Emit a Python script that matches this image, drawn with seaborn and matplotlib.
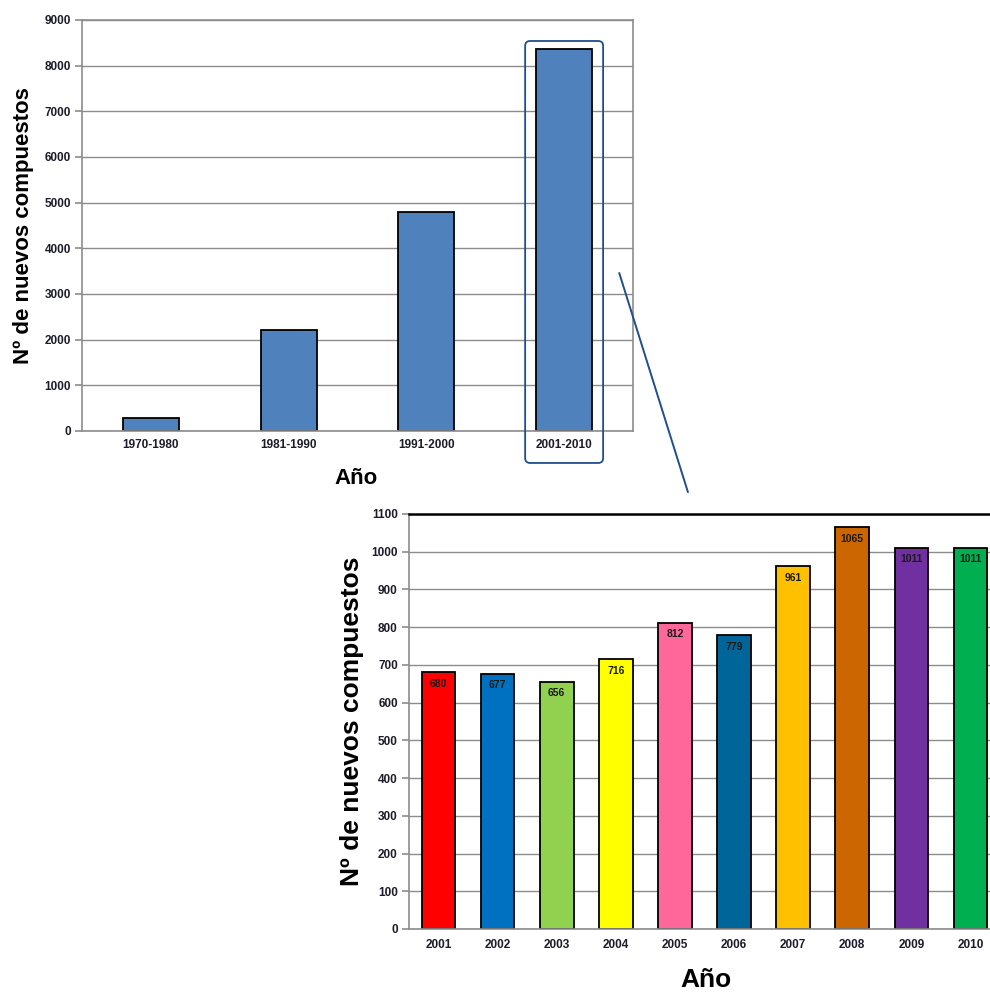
"""
Nuevos compuestos por década y por año (2001-2010)
"""

import matplotlib
matplotlib.use("Agg")
import matplotlib.pyplot as plt
from matplotlib.patches import FancyBboxPatch, ConnectionPatch
import seaborn as sns

# data
decades = ["1970-1980", "1981-1990", "1991-2000", "2001-2010"]
decade_counts = [280, 2210, 4800, 8368]

years = ["2001", "2002", "2003", "2004", "2005", "2006", "2007", "2008", "2009", "2010"]
year_counts = [680, 677, 656, 716, 812, 779, 961, 1065, 1011, 1011]
year_colors = ["#FF0000", "#0070C0", "#92D050", "#FFFF00", "#FF6699",
               "#006699", "#FFC000", "#CC6600", "#7030A0", "#00B050"]

sns.set_style("white")
plt.rcParams['font.family'] = ['Liberation Sans', 'DejaVu Sans']

GRID = "#8c8c8c"
TICKTXT = "#1c1c2a"

fig = plt.figure(figsize=(9.9, 9.94), dpi=100)

# ---- top chart
ax1 = fig.add_axes([0.0828, 0.5664, 0.5566, 0.4135])
sns.barplot(x=decades, y=decade_counts, color="#4F81BD", saturation=1, width=0.405,
            edgecolor="black", linewidth=1.3, ax=ax1)
ax1.set_ylim(0, 9000)
ax1.set_yticks(range(0, 9001, 1000))
ax1.yaxis.grid(True, color=GRID, linewidth=1)
ax1.set_axisbelow(True)
for s in ax1.spines.values():
    s.set_color(GRID)
    s.set_linewidth(1.2)
ax1.set_xticks([-0.5, 0.5, 1.5, 2.5, 3.5], minor=True)
ax1.tick_params(axis="x", which="major", length=0, pad=6)
ax1.tick_params(axis="x", which="minor", length=5, color=GRID, width=1.2)
ax1.tick_params(axis="y", length=5, color=GRID, width=1.2, left=True, pad=3)
for lab in ax1.get_xticklabels() + ax1.get_yticklabels():
    lab.set_fontsize(8.5)
    lab.set_fontweight("bold")
    lab.set_color(TICKTXT)
ax1.set_xlabel("Año", fontsize=16, fontweight="bold", color="black")
ax1.set_ylabel("Nº de nuevos compuestos", fontsize=16, fontweight="bold", color="black")
ax1.xaxis.set_label_coords(0.498, -0.09)
ax1.yaxis.set_label_coords(-0.087, 0.5)

# highlight around last decade
hl = FancyBboxPatch((3 - 0.283, -700), 0.566, 9240,
                    boxstyle="round,pad=0,rounding_size=0.036",
                    mutation_aspect=3020, transform=ax1.transData,
                    facecolor="none", edgecolor="#1F4E8C", linewidth=1.3,
                    clip_on=False, zorder=5)
ax1.add_patch(hl)

# ---- bottom chart
ax2 = fig.add_axes([0.4131, 0.0654, 0.597, 0.4175])
sns.barplot(x=years, y=year_counts, hue=years, palette=year_colors, saturation=1,
            legend=False, width=0.57, edgecolor="black", linewidth=1.3, ax=ax2)
ax2.set_ylim(0, 1100)
ax2.set_yticks(range(0, 1101, 100))
ax2.yaxis.grid(True, color=GRID, linewidth=1)
ax2.set_axisbelow(True)
for s in ax2.spines.values():
    s.set_color(GRID)
    s.set_linewidth(1.2)
ax2.spines["top"].set_color("black")
ax2.spines["top"].set_linewidth(1.8)
ax2.tick_params(axis="x", length=0, pad=7)
ax2.tick_params(axis="y", length=5, color=GRID, width=1.2, left=True, pad=3)
for lab in ax2.get_xticklabels() + ax2.get_yticklabels():
    lab.set_fontsize(8.5)
    lab.set_fontweight("bold")
    lab.set_color(TICKTXT)
for cont in ax2.containers:
    ax2.bar_label(cont, padding=-12, fontsize=7.5, fontweight="bold", color="#1a1a1a")
ax2.set_xlabel("Año", fontsize=19, fontweight="bold", color="black")
ax2.set_ylabel("Nº de nuevos compuestos", fontsize=19, fontweight="bold", color="black")
ax2.xaxis.set_label_coords(0.503, -0.093)
ax2.yaxis.set_label_coords(-0.076, 0.5)

# connector line
con = ConnectionPatch(xyA=(3.4, 3460), coordsA=ax1.transData,
                      xyB=(4.22, 1158), coordsB=ax2.transData,
                      color="#1F4E8C", linewidth=1.4)
fig.add_artist(con)

fig.savefig("out.png", dpi=100)
